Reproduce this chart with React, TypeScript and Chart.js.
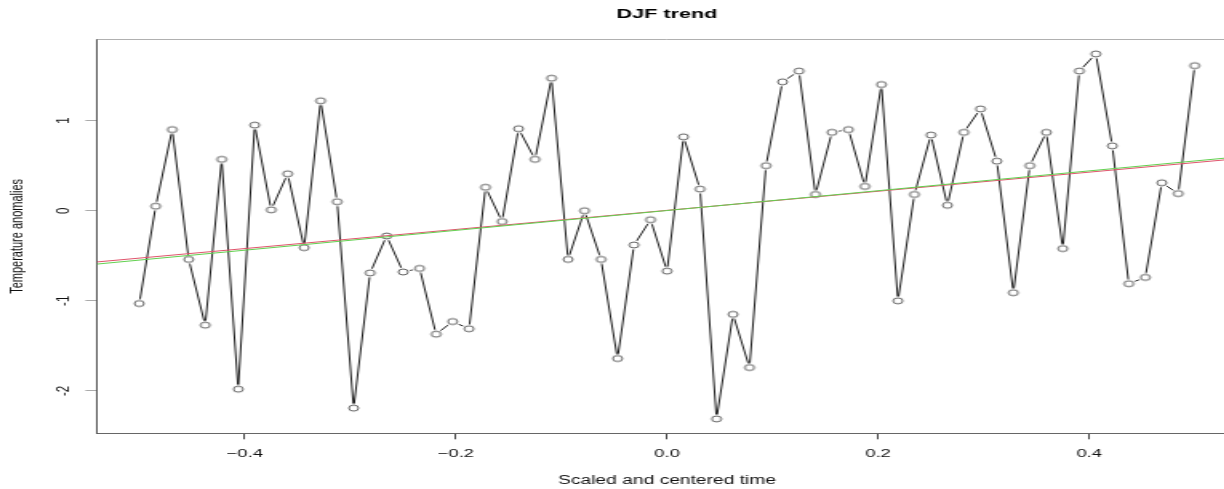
import React, { useEffect, useRef } from 'react';
import { Chart, registerables } from 'chart.js';

Chart.register(...registerables);

// Scaled and centered time (65 winters)
const TIME = [
  -0.5, -0.484375, -0.46875, -0.453125, -0.4375, -0.421875, -0.40625, -0.390625,
  -0.375, -0.359375, -0.34375, -0.328125, -0.3125, -0.296875, -0.28125, -0.265625,
  -0.25, -0.234375, -0.21875, -0.203125, -0.1875, -0.171875, -0.15625, -0.140625,
  -0.125, -0.109375, -0.09375, -0.078125, -0.0625, -0.046875, -0.03125, -0.015625,
  0, 0.015625, 0.03125, 0.046875, 0.0625, 0.078125, 0.09375, 0.109375,
  0.125, 0.140625, 0.15625, 0.171875, 0.1875, 0.203125, 0.21875, 0.234375,
  0.25, 0.265625, 0.28125, 0.296875, 0.3125, 0.328125, 0.34375, 0.359375,
  0.375, 0.390625, 0.40625, 0.421875, 0.4375, 0.453125, 0.46875, 0.484375, 0.5,
];

// DJF temperature anomalies
const ANOMALIES = [
  -1.03, 0.05, 0.9, -0.54, -1.27, 0.57, -1.98, 0.95,
  0.01, 0.41, -0.41, 1.22, 0.1, -2.19, -0.69, -0.28,
  -0.68, -0.64, -1.37, -1.23, -1.31, 0.26, -0.12, 0.91,
  0.57, 1.47, -0.54, 0.0, -0.54, -1.64, -0.38, -0.1,
  -0.67, 0.82, 0.24, -2.31, -1.15, -1.74, 0.5, 1.43,
  1.55, 0.18, 0.87, 0.9, 0.27, 1.4, -1.0, 0.18,
  0.84, 0.06, 0.87, 1.13, 0.55, -0.91, 0.5, 0.87,
  -0.42, 1.55, 1.74, 0.72, -0.81, -0.74, 0.31, 0.19, 1.61,
];

const X_TICKS = [-0.4, -0.2, 0, 0.2, 0.4];
const Y_TICKS = [-2, -1, 0, 1];
const X_RANGE = [-0.54, 0.54];
const Y_RANGE = [-2.47, 1.9];

// fitted trend lines: [intercept, slope]
const TREND_RED = [0.004, 1.06];
const TREND_GREEN = [0.002, 1.1];

const CANVAS_W = 773;
const CANVAS_H = 489;
const STRETCH = 1.6;
const VIEW_W = 1224;

function makeMarker(): HTMLCanvasElement {
  const c = document.createElement('canvas');
  c.width = 12;
  c.height = 12;
  const g = c.getContext('2d')!;
  g.fillStyle = '#ffffff';
  g.beginPath();
  g.arc(6, 6, 4.6, 0, Math.PI * 2);
  g.fill();
  g.strokeStyle = '#444444';
  g.lineWidth = 0.85;
  g.beginPath();
  g.arc(6, 6, 3, 0, Math.PI * 2);
  g.stroke();
  return c;
}

function trendPoints(coef: number[]) {
  return [
    { x: X_RANGE[0], y: coef[0] + coef[1] * X_RANGE[0] },
    { x: X_RANGE[1], y: coef[0] + coef[1] * X_RANGE[1] },
  ];
}

const boxTop = {
  id: 'boxTop',
  afterDraw(chart: any) {
    const { ctx, chartArea } = chart;
    ctx.save();
    ctx.strokeStyle = '#b0b0b0';
    ctx.lineWidth = 1;
    const y = Math.floor(chartArea.top) + 0.5;
    ctx.beginPath();
    ctx.moveTo(chartArea.left, y);
    ctx.lineTo(chartArea.right, y);
    ctx.stroke();
    ctx.restore();
  },
};

export default function App() {
  const ref = useRef<HTMLCanvasElement>(null);

  useEffect(() => {
    if (!ref.current) return;
    Chart.defaults.font.family = "'Liberation Sans', Arial, sans-serif";
    const marker = makeMarker();
    const chart = new Chart(ref.current, {
      type: 'scatter',
      data: {
        datasets: [
          {
            label: 'trend green',
            data: trendPoints(TREND_GREEN),
            showLine: true,
            borderColor: '#61D04F',
            borderWidth: 1,
            pointRadius: 0,
            pointHoverRadius: 0,
            order: 0,
          },
          {
            label: 'trend red',
            data: trendPoints(TREND_RED),
            showLine: true,
            borderColor: '#DF536B',
            borderWidth: 1,
            pointRadius: 0,
            pointHoverRadius: 0,
            order: 1,
          },
          {
            label: 'DJF',
            data: TIME.map((t, i) => ({ x: t, y: ANOMALIES[i] })),
            showLine: true,
            borderColor: '#000000',
            borderWidth: 0.9,
            pointRadius: 3,
            pointStyle: marker as any,
            order: 2,
          },
        ],
      },
      options: {
        animation: false,
        responsive: false,
        events: [],
        layout: { padding: 0, autoPadding: false },
        plugins: {
          legend: { display: false },
          tooltip: { enabled: false },
          title: {
            display: true,
            text: 'DJF trend',
            fullSize: false,
            color: '#000',
            font: { size: 13.5, weight: 'bold' },
            padding: { top: 5.9, bottom: 17.4 },
          },
        },
        scales: {
          x: {
            type: 'linear',
            min: X_RANGE[0],
            max: X_RANGE[1],
            afterBuildTicks: (s: any) => {
              s.ticks = X_TICKS.map((v) => ({ value: v }));
            },
            afterFit: (s: any) => {
              s.height = 55.7;
            },
            ticks: {
              autoSkip: false,
              maxRotation: 0,
              minRotation: 0,
              padding: 8,
              color: '#111',
              font: { size: 11.5 },
              callback: (v: any) => {
                const n = Number(v);
                if (Math.abs(n) < 1e-9) return '0.0';
                return (n < 0 ? '\u2212' : '') + Math.abs(n).toFixed(1);
              },
            },
            grid: {
              display: true,
              drawOnChartArea: false,
              drawTicks: true,
              tickLength: 6,
              tickColor: '#444',
              tickWidth: 1,
            },
            border: { display: true, color: '#666', width: 1 },
            title: {
              display: true,
              text: 'Scaled and centered time',
              color: '#111',
              font: { size: 12 },
              padding: { top: 0, bottom: 1.5 },
            },
          },
          y: {
            type: 'linear',
            min: Y_RANGE[0],
            max: Y_RANGE[1],
            afterBuildTicks: (s: any) => {
              s.ticks = Y_TICKS.map((v) => ({ value: v }));
            },
            afterFit: (s: any) => {
              s.width = 60.6;
            },
            ticks: {
              autoSkip: false,
              minRotation: 90,
              maxRotation: 90,
              crossAlign: 'center',
              padding: 8.5,
              color: '#111',
              font: { size: 11.5 },
              callback: (v: any) => String(Number(v)),
            },
            grid: {
              display: true,
              drawOnChartArea: false,
              drawTicks: true,
              tickLength: 7.25,
              tickColor: '#aaa',
              tickWidth: 1,
            },
            border: { display: true, color: '#555', width: 1 },
            title: {
              display: true,
              text: 'Temperature anomalies',
              color: '#111',
              font: { size: 11 },
              padding: { top: 4, bottom: 0 },
            },
          },
        },
      },
      plugins: [boxTop],
    } as any);
    return () => chart.destroy();
  }, []);

  return (
    <div
      style={{
        position: 'fixed',
        left: 0,
        top: 0,
        width: VIEW_W,
        height: CANVAS_H,
        overflow: 'hidden',
        background: '#fff',
      }}
    >
      <canvas
        ref={ref}
        width={CANVAS_W}
        height={CANVAS_H}
        style={{ width: CANVAS_W * STRETCH + 'px', height: CANVAS_H + 'px', display: 'block' }}
      />
    </div>
  );
}
